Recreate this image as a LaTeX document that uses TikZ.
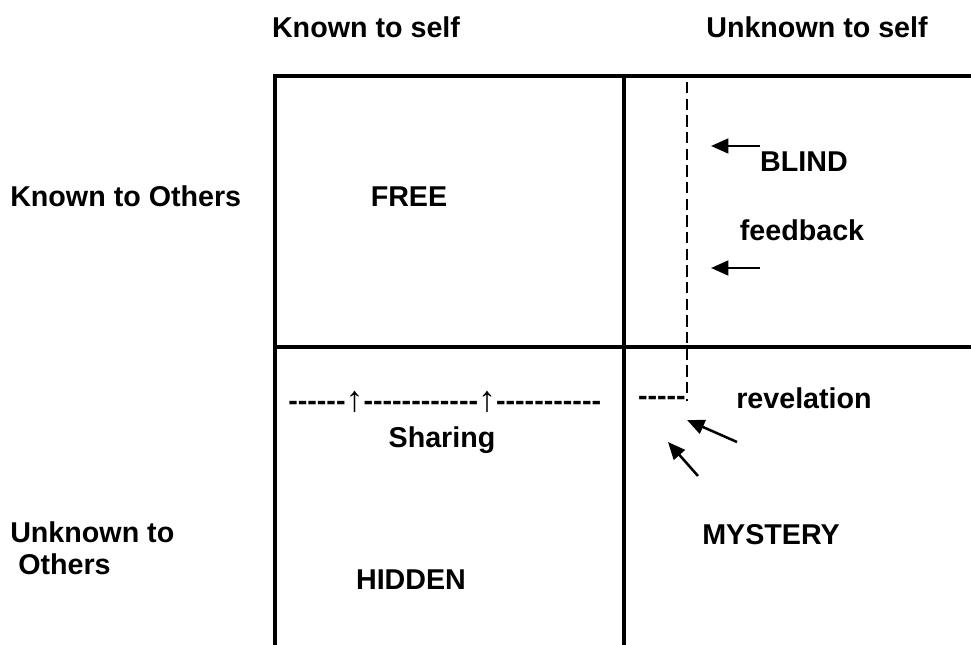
\documentclass[tikz,border=0pt]{standalone}
\usepackage{fontspec}
\setmainfont{Liberation Sans}[Ligatures=TeXOff]
\usetikzlibrary{arrows.meta, positioning}

\begin{document}
\begin{tikzpicture}[
  x=0.75pt, y=-0.75pt,
  grid/.style={line width=2.4pt},
  lab/.style={font=\fontsize{21.5}{24}\selectfont\bfseries, inner sep=0pt},
  guide/.style={line width=1.4pt, dash pattern=on 8.5pt off 4pt},
  push/.style={line width=1.9pt, -{Triangle[length=13pt, width=11pt]}}
]
\useasboundingbox (0,0) rectangle (971,645);

% window frame
\draw[grid] (971,76) -| (275,645);
\draw[grid] (624,76) -- (624,645);
\draw[grid] (275,347) -- (971,347);

% headings
\node[lab] (ks) at (366,27) {Known to self};
\node[lab] (us) at (817,27) {Unknown to self};
\node[lab, anchor=west] (ko) at (10,196) {Known to Others};
\node[lab, anchor=north west, align=left] (uo) at (10,521)
  {Unknown to\\\hspace*{0.28em}Others};

% quadrants
\node[lab] (free) at (409,197) {FREE};
\node[lab] (blind) at (804,162) {BLIND};
\node[lab] (fb) at (802,230) {feedback};
\node[lab] (hidden) at (411,580) {HIDDEN};
\node[lab] (myst) at (771,535) {MYSTERY};
\node[lab] (rev) at (804,398) {revelation};
\node[lab, anchor=west] (shline) at (288,402)
  {------{\mdseries\fontsize{27}{27}\selectfont\raisebox{-1pt}{↑}}------------{\mdseries\fontsize{27}{27}\selectfont\raisebox{-1pt}{↑}}-----------};
\node[lab] (share) at (442,440) {Sharing};
\node[lab, anchor=east] (hy) at (686,401) {-----};

% blind-spot boundary
\coordinate (gtop) at (687,82);
\draw[guide] (gtop) -- (gtop |- hy.east);

% arrows
\coordinate (b1) at (760,146);
\coordinate (b2) at (711,146);
\coordinate (f1) at (760,268);
\coordinate (f2) at (711,268);
\coordinate (r1) at (737,442);
\coordinate (r2) at (687,420);
\coordinate (r3) at (698,476);
\coordinate (r4) at (668,442);
\draw[push] (b1) -- (b2);
\draw[push] (f1) -- (f2);
\draw[push] (r1) -- (r2);
\draw[push] (r3) -- (r4);

\end{tikzpicture}
\end{document}
